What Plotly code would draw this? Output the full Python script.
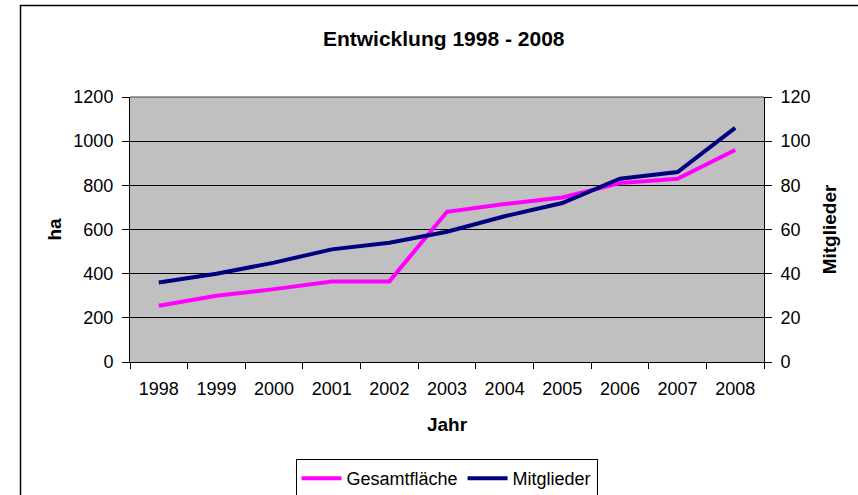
import plotly.graph_objects as go

years = ["1998", "1999", "2000", "2001", "2002", "2003", "2004", "2005", "2006", "2007", "2008"]
gesamtflaeche = [255, 300, 330, 365, 365, 680, 715, 745, 810, 830, 960]
mitglieder = [36, 40, 45, 51, 54, 59, 66, 72, 83, 86, 106]
left_ticks = [0, 200, 400, 600, 800, 1000, 1200]
right_ticks = [0, 20, 40, 60, 80, 100, 120]

FONT = "Liberation Sans, Arial, sans-serif"

fig = go.Figure()
fig.add_trace(go.Scatter(x=years, y=gesamtflaeche, name="Gesamtfläche", mode="lines",
                         line=dict(color="#FF00FF", width=4), yaxis="y"))
fig.add_trace(go.Scatter(x=years, y=mitglieder, name="Mitglieder", mode="lines",
                         line=dict(color="#000080", width=4), yaxis="y2"))

L, R, T, B = 130, 764, 97, 362
W, H = 858, 495
pw, ph = R - L, B - T

def px(x):
    return (x - L) / pw

def py(y):
    return (B - y) / ph

fig.update_layout(
    width=W, height=H,
    margin=dict(l=L, r=W - R, t=T, b=H - B, autoexpand=False),
    paper_bgcolor="white",
    plot_bgcolor="#C0C0C0",
    font=dict(family=FONT, size=18, color="black"),
    showlegend=True,
    title=dict(text="<b>Entwicklung 1998 - 2008</b>", x=443.7 / W, xanchor="center",
               y=1 - 39 / H, yanchor="middle", font=dict(size=21, family=FONT)),
    xaxis=dict(type="category", range=[-0.5, 10.5], tickson="boundaries",
               ticks="outside", ticklen=6, tickcolor="black", showgrid=False,
               showline=True, linecolor="black", linewidth=1, mirror=False,
               tickfont=dict(size=18), zeroline=False, ticklabelstandoff=10,
               title=dict(text="<b>Jahr</b>", font=dict(size=19), standoff=20)),
    yaxis=dict(range=[0, 1200], tickvals=left_ticks, ticks="outside", ticklen=7,
               tickcolor="black", showgrid=True, gridcolor="black", gridwidth=1,
               showline=True, linecolor="black", linewidth=1, zeroline=False,
               tickfont=dict(size=18), ticklabelstandoff=5,
               title=dict(text="<b>ha</b>", font=dict(size=19), standoff=6)),
    yaxis2=dict(range=[0, 120], tickvals=right_ticks, overlaying="y", side="right",
                ticks="outside", ticklen=7, tickcolor="black", showgrid=False,
                showline=True, linecolor="black", linewidth=1, zeroline=False,
                tickfont=dict(size=18), ticklabelstandoff=5,
                title=dict(text="<b>Mitglieder</b>", font=dict(size=19), standoff=13)),
    legend=dict(orientation="h", x=px(446.5), xanchor="center", y=py(459), yanchor="top",
                bordercolor="black", borderwidth=1, bgcolor="white",
                font=dict(size=18), tracegroupgap=0, itemwidth=40),
)

# top border of plot area
fig.add_shape(type="line", xref="paper", yref="paper", x0=0, x1=1, y0=1, y1=1,
              line=dict(color="#404040", width=1))
# outer chart border
fig.add_shape(type="rect", xref="paper", yref="paper",
              x0=px(20.5), x1=px(880), y0=py(5.5), y1=py(520),
              line=dict(color="black", width=1.5), fillcolor="rgba(0,0,0,0)", layer="above")

fig.write_html("out.html", config={"displayModeBar": False},
               post_script="document.body.style.margin='0';")
